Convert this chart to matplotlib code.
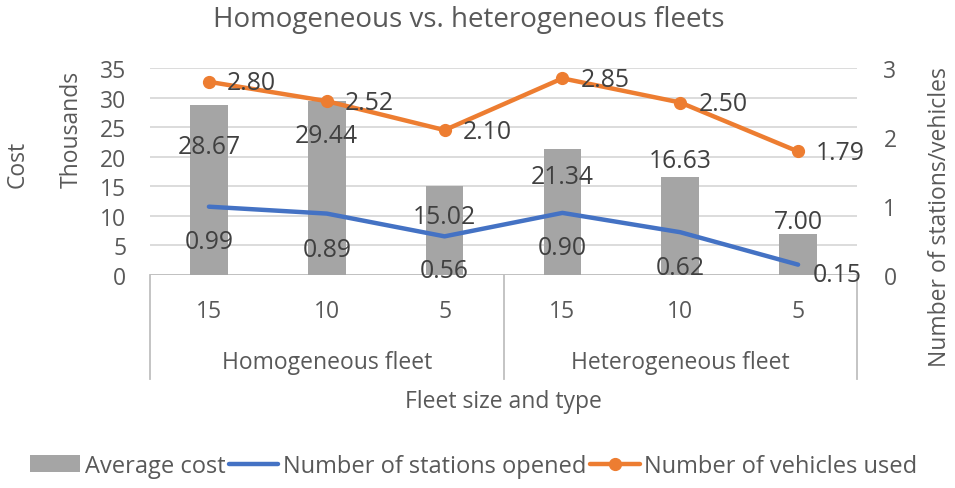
import matplotlib.pyplot as plt
from matplotlib.lines import Line2D
from matplotlib.transforms import blended_transform_factory
import numpy as np

plt.rcParams['font.family'] = ['Open Sans', 'DejaVu Sans']

fleet_sizes = ['15', '10', '5', '15', '10', '5']
fleet_types = ['Homogeneous fleet', 'Heterogeneous fleet']
avg_cost = [28.67, 29.44, 15.02, 21.34, 16.63, 7.00]   # thousands
stations = [0.99, 0.89, 0.56, 0.90, 0.62, 0.15]
vehicles = [2.80, 2.52, 2.10, 2.85, 2.50, 1.79]

# label offsets in pixels (dx, dy down) - copied off the excel chart
bar_off = [(0, 41), (0, 35), (0, 30), (0, 28), (0, -16), (0, -12)]
st_off = [(0, 35), (0, 36), (0, 34), (0, 35), (0, 35), (15, 10)]

txt = '#595959'
grid = '#D9D9D9'
gray = '#A5A5A5'
blue = '#4472C4'
orange = '#ED7D31'
fs = 16.5
lab_fs = 17.8

fig = plt.figure(figsize=(9.55, 4.89), dpi=100)
ax = fig.add_axes([150/955, 1-276/489, 707/955, 207/489])
ax2 = ax.twinx()

x = np.arange(len(avg_cost)) + 0.5
bars = ax.bar(x, avg_cost, 0.32, color=gray, zorder=2)
ax.set_xlim(0, 6)
ax.set_ylim(0, 35)
ax.set_yticks(range(0, 36, 5))
ax.grid(axis='y', color=grid, lw=1.3, zorder=0)
ax.set_axisbelow(True)

l1, = ax2.plot(x, stations, color=blue, lw=3.2, solid_capstyle='round')
l2, = ax2.plot(x, vehicles, color=orange, lw=3.2, marker='o', ms=8.5,
               solid_capstyle='round')
ax2.set_ylim(0, 3)
ax2.set_yticks([0, 1, 2, 3])

for a in (ax, ax2):
    for s in a.spines.values():
        s.set_visible(False)
    a.tick_params(length=0, labelsize=fs, labelcolor=txt)
ax.tick_params(axis='y', pad=17)
ax2.tick_params(axis='y', pad=19)
ax.axhline(0, color='#BFBFBF', lw=1.3, zorder=1)

ax.set_xticks(x)
ax.set_xticklabels(fleet_sizes)
ax.tick_params(axis='x', pad=17.5)

for xi, v, (dx, dy) in zip(x, avg_cost, bar_off):
    ax.annotate(f'{v:.2f}', (xi, v), xytext=(dx, -dy), textcoords='offset pixels',
                ha='center', va='center', fontsize=lab_fs, color='#404040', zorder=5)
for xi, v, (dx, dy) in zip(x, stations, st_off):
    ax2.annotate(f'{v:.2f}', (xi, v), xytext=(dx, -dy), textcoords='offset pixels',
                 ha='center' if dx == 0 else 'left', va='center',
                 fontsize=lab_fs, color='#404040')
for xi, v in zip(x, vehicles):
    ax2.annotate(f'{v:.2f}', (xi, v), xytext=(18, -1), textcoords='offset pixels',
                 ha='left', va='center', fontsize=lab_fs, color='#404040')

# multi-level category axis box
tr = blended_transform_factory(ax.transData, ax.transAxes)
for xv in (0, 3, 6):
    ax.add_line(Line2D([xv, xv], [0, -104/207], transform=tr, color='#BFBFBF',
                       lw=1.3, clip_on=False))
for i, name in enumerate(fleet_types):
    ax.text(1.5 + 3*i, -87/207, name, transform=tr, ha='center', va='center',
            fontsize=fs, color=txt)
ax.text(0.5, -126/207, 'Fleet size and type', transform=ax.transAxes,
        ha='center', va='center', fontsize=fs, color=txt)

fig.text(18/955, 1-188/489, 'Cost', rotation=90, ha='center', va='bottom',
         fontsize=fs, color=txt)
fig.text(72/955, 1-188/489, 'Thousands', rotation=90, ha='center', va='bottom',
         fontsize=fs, color=txt)
fig.text(940/955, 1-217/489, 'Number of stations/vehicles', rotation=90,
         ha='center', va='center', fontsize=fs, color=txt)
fig.text(469/955, 1-20/489, 'Homogeneous vs. heterogeneous fleets', ha='center',
         va='center', fontsize=20, color=txt)

fig.legend([bars, l1, l2], ['Average cost', 'Number of stations opened',
                            'Number of vehicles used'],
           loc='center', bbox_to_anchor=(474/955, 1-467/489), ncol=3,
           frameon=False, fontsize=17, labelcolor=txt, handlelength=2.1,
           handletextpad=0.2, columnspacing=0.15)

fig.savefig('out.png', dpi=100)
